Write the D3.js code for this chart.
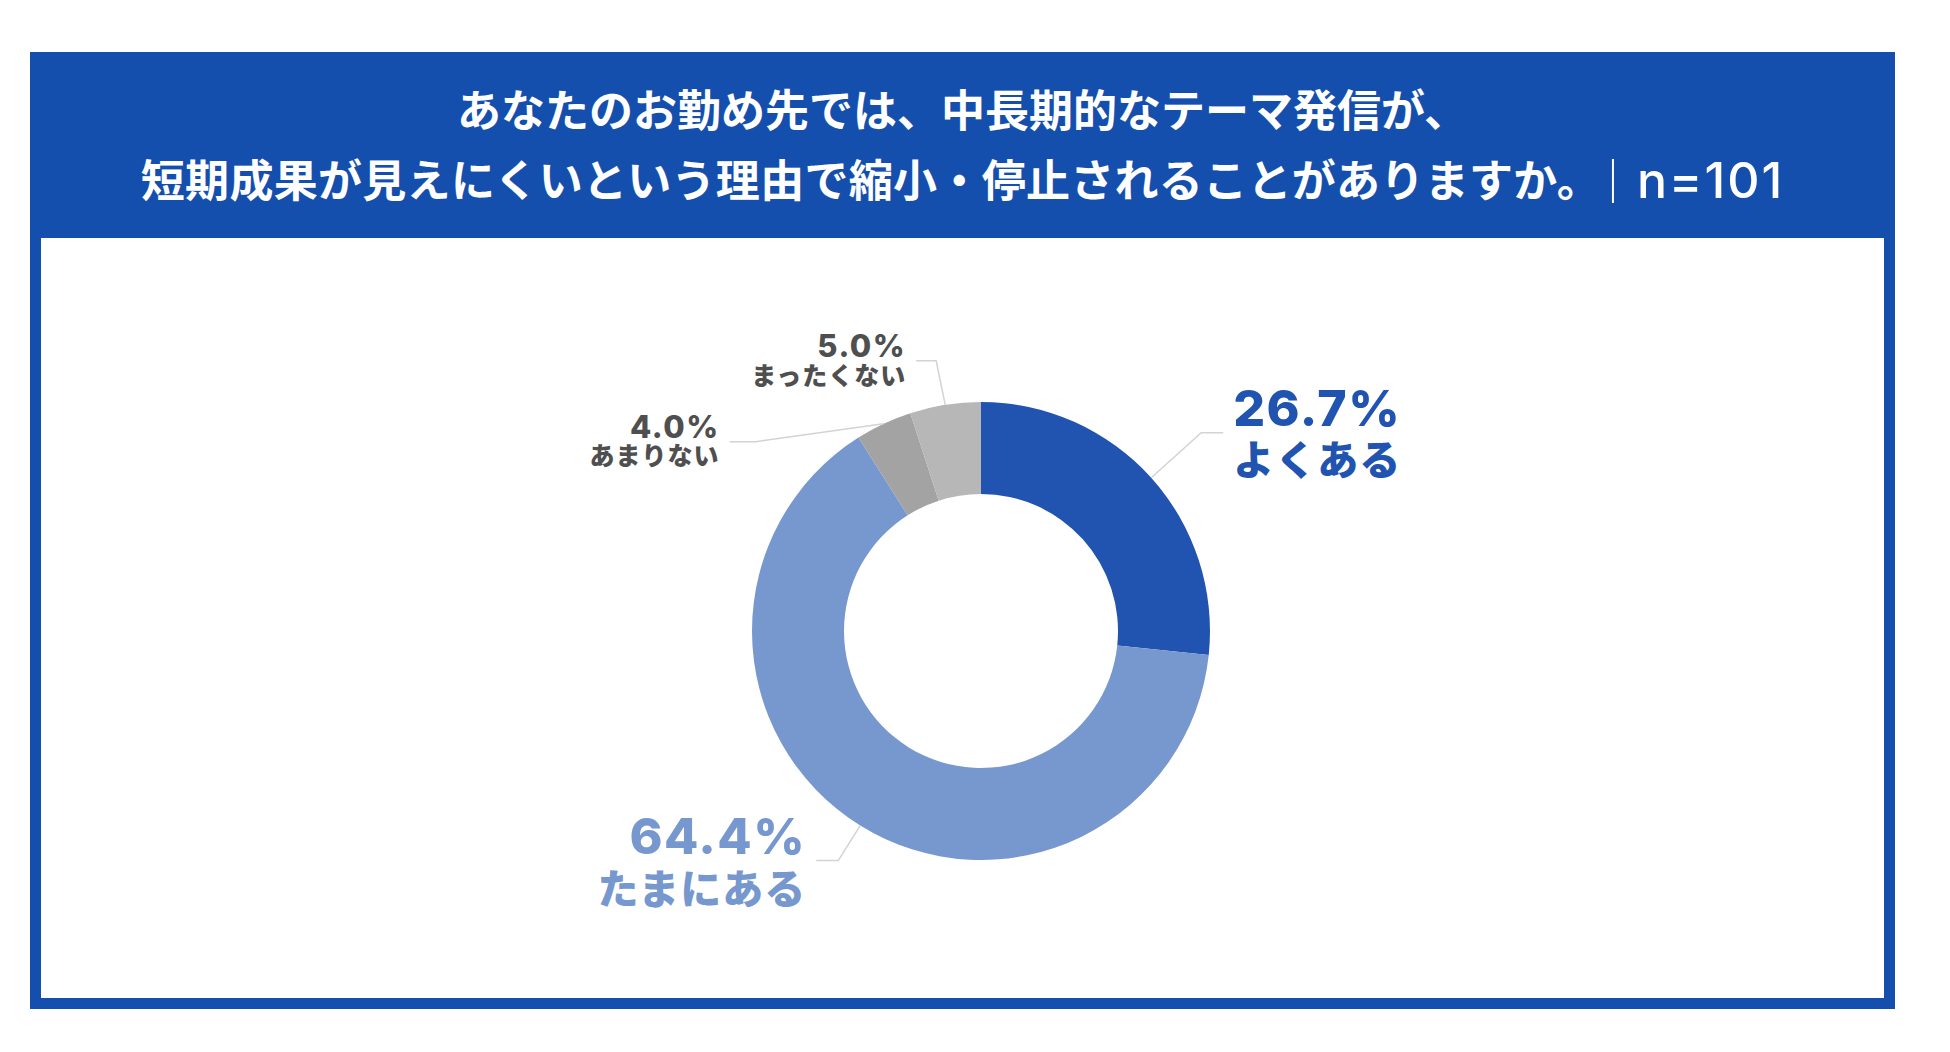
<!DOCTYPE html>
<html lang="ja">
<head>
<meta charset="utf-8">
<title>短期成果が見えにくいという理由で縮小・停止されることがありますか</title>
<script src="https://cdn.jsdelivr.net/npm/d3@7"></script>
<style>
    html, body { margin: 0; padding: 0; background: #ffffff; }
    svg { display: block; }
</style>
</head>
<body>
<svg id="chart"></svg>
<script>
// データ
const categories = ["よくある", "たまにある", "あまりない", "まったくない"];
const values = [26.7, 64.4, 4.0, 5.0];
const sliceColors = ["#2154b0", "#7797cf", "#a3a3a3", "#b7b7b7"];
const labelColors = ["#2154b0", "#7797cf", "#4f4f4f", "#4f4f4f"];
const titleLines = [
    "あなたのお勤め先では、中長期的なテーマ発信が、",
    "短期成果が見えにくいという理由で縮小・停止されることがありますか。"
];
const sampleSize = "n=101";

const W = 1950, H = 1052;
const headerBlue = "#154fad";
const jpFont = "'Noto Sans CJK JP', 'Noto Sans', sans-serif";
const numFont = "Inter, 'Noto Sans', sans-serif";

const svg = d3.select("#chart")
    .attr("width", W)
    .attr("height", H);

// 枠とヘッダー
const frame = { x: 30, y: 52, w: 1865, h: 957, border: 11, headerH: 186 };

svg.append("rect")
    .attr("x", frame.x).attr("y", frame.y)
    .attr("width", frame.w).attr("height", frame.h)
    .attr("fill", headerBlue);

svg.append("rect")
    .attr("x", frame.x + frame.border)
    .attr("y", frame.y + frame.headerH)
    .attr("width", frame.w - frame.border * 2)
    .attr("height", frame.h - frame.headerH - frame.border)
    .attr("fill", "#ffffff");

const cx = frame.x + frame.w / 2;

// タイトル1行目
svg.append("text")
    .attr("x", cx)
    .attr("y", 127)
    .attr("text-anchor", "middle")
    .style("font-family", jpFont)
    .style("font-weight", 700)
    .style("font-size", "44px")
    .style("fill", "#ffffff")
    .text(titleLines[0]);

// タイトル2行目（本文 + 区切り線 + n数）
const line2 = svg.append("g");
const line2Main = line2.append("text")
    .attr("y", 197)
    .style("font-family", jpFont)
    .style("font-weight", 700)
    .style("font-size", "44px")
    .style("letter-spacing", "0.3px")
    .style("fill", "#ffffff")
    .text(titleLines[1]);
const line2N = line2.append("text")
    .attr("y", 198)
    .style("font-family", numFont)
    .style("font-weight", 500)
    .style("font-size", "50px")
    .style("letter-spacing", "2px")
    .style("fill", "#ffffff")
    .text(sampleSize);

const w1 = line2Main.node().getComputedTextLength();
const w2 = line2N.node().getComputedTextLength();
const gapA = 12, gapB = 24;
const startX = cx - (w1 + gapA + gapB + w2) / 2;
line2Main.attr("x", startX);
line2.append("line")
    .attr("x1", startX + w1 + gapA).attr("x2", startX + w1 + gapA)
    .attr("y1", 159).attr("y2", 203)
    .attr("stroke", "#ffffff")
    .attr("stroke-width", 2);
line2N.attr("x", startX + w1 + gapA + gapB);

// ドーナツ
const center = { x: 981, y: 631 };
const outerR = 229, innerR = 137;

const pie = d3.pie()
    .sort(null)
    .value(d => d.value);

const arcs = pie(categories.map((c, i) => ({ name: c, value: values[i], idx: i })));

const arc = d3.arc()
    .innerRadius(innerR)
    .outerRadius(outerR);

const chartG = svg.append("g")
    .attr("transform", `translate(${center.x},${center.y})`);

chartG.selectAll(".slice")
    .data(arcs)
    .enter()
    .append("path")
    .attr("class", "slice")
    .attr("d", arc)
    .attr("fill", d => sliceColors[d.data.idx]);

// ラベル配置（引き出し線の曲がり位置、ラベルの大きさ）
const labelLayout = [
    { elbow: [50, -45], dir: 1, arm: 22, pct: 50, cat: 41, pctDy: -7, catDy: 42 },
    { elbow: [-22, 35], dir: -1, arm: 22, pct: 50, cat: 41, pctDy: -7, catDy: 43 },
    { elbow: [-128, 18], dir: -1, arm: 26, pct: 31, cat: 25, pctDy: -4, catDy: 23 },
    { elbow: [-9, -44], dir: -1, arm: 20, pct: 31, cat: 25, pctDy: -4, catDy: 24 }
];

const edgeArc = d3.arc().innerRadius(outerR).outerRadius(outerR);

arcs.forEach(d => {
    const i = d.data.idx;
    const L = labelLayout[i];
    const [sx, sy] = edgeArc.centroid(d);
    const ex = sx + L.elbow[0], ey = sy + L.elbow[1];
    const tx = ex + L.dir * L.arm;

    chartG.append("polyline")
        .attr("points", [[sx, sy], [ex, ey], [tx, ey]].map(p => p.join(",")).join(" "))
        .attr("fill", "none")
        .attr("stroke", "#d3d3d3")
        .attr("stroke-width", 1.5);

    const anchor = L.dir > 0 ? "start" : "end";
    const lx = tx + L.dir * 10;

    chartG.append("text")
        .attr("x", lx)
        .attr("y", ey + L.pctDy)
        .attr("text-anchor", anchor)
        .style("font-family", numFont)
        .style("font-weight", 800)
        .style("font-size", L.pct + "px")
        .style("letter-spacing", "1.5px")
        .style("fill", labelColors[i])
        .text(d3.format(".1f")(d.data.value) + "%");

    chartG.append("text")
        .attr("x", lx)
        .attr("y", ey + L.catDy)
        .attr("text-anchor", anchor)
        .style("font-family", jpFont)
        .style("font-weight", 900)
        .style("font-size", L.cat + "px")
        .style("letter-spacing", "1px")
        .style("fill", labelColors[i])
        .text(d.data.name);
});
</script>
</body>
</html>
